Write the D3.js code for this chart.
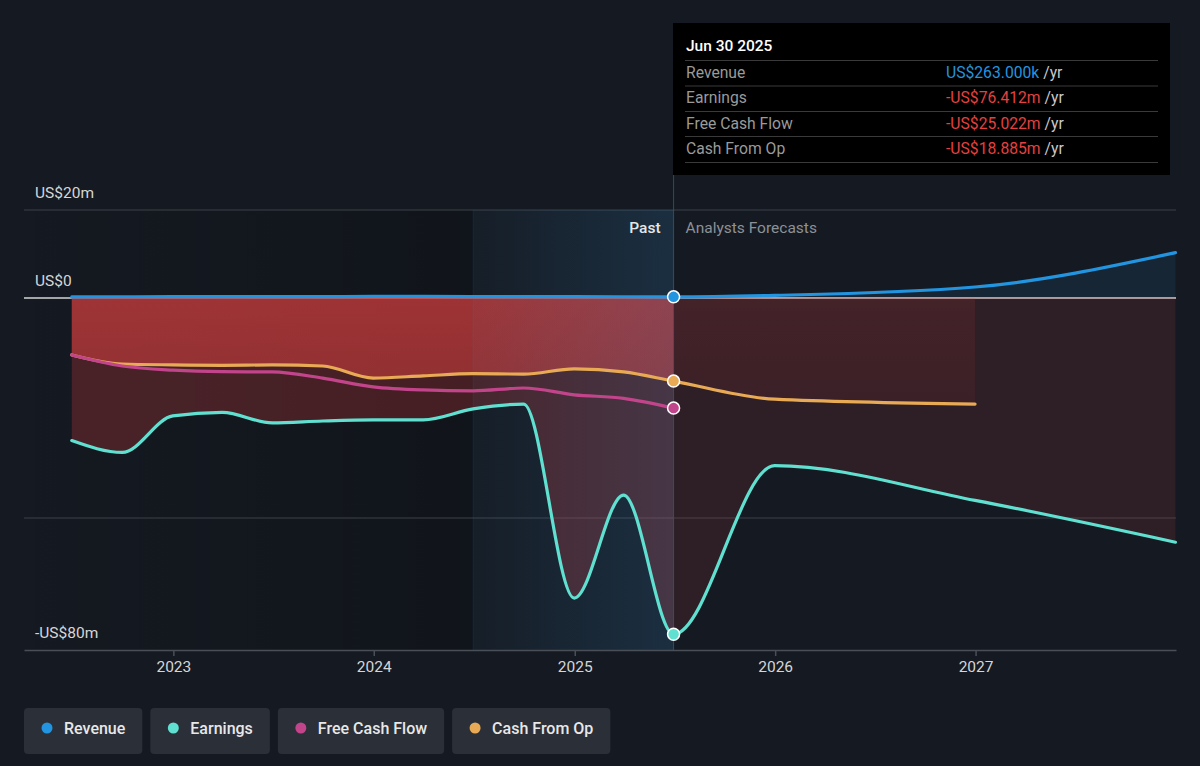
<!DOCTYPE html>
<html><head><meta charset="utf-8">
<script src="https://cdn.jsdelivr.net/npm/d3@7"></script>
<style>html,body{margin:0;padding:0;background:#151a22;} svg{display:block;font-family:Roboto,"Open Sans",sans-serif;}</style>
</head><body><svg id="chart" width="1200" height="766"></svg>
<script>
// ---------- DATA ----------
const pastDates = ["2022-06-30","2022-09-30","2022-12-31","2023-03-31","2023-06-30","2023-09-30","2023-12-31","2024-03-31","2024-06-30","2024-09-30","2024-12-31","2025-03-31","2025-06-30"];
const revenuePast  = [0.25,0.28,0.3,0.3,0.3,0.32,0.35,0.35,0.33,0.3,0.3,0.28,0.263];
const earningsPast = [-32.4,-35.1,-26.8,-26.0,-28.4,-27.95,-27.7,-27.7,-25.2,-24.1,-68.2,-44.8,-76.412];
const fcfPast      = [-12.95,-15.45,-16.4,-16.75,-16.8,-18.2,-20.2,-20.9,-21.1,-20.45,-22.0,-22.8,-25.022];
const cfoPast      = [-12.95,-15.0,-15.2,-15.3,-15.2,-15.45,-18.2,-17.7,-17.2,-17.3,-16.1,-16.8,-18.885];

const fcDates     = ["2025-06-30","2025-12-31","2026-12-31","2027-12-31"];
const revenueFc   = [0.263,0.6,2.5,10.3];
const earningsFc  = [-76.412,-38.1,-46.0,-55.5];
const cfoFcDates  = ["2025-06-30","2025-12-31","2026-12-31"];
const cfoFc       = [-18.885,-23.0,-24.1];

const yTickValues = [20,0,-80];
const yTickLabels = ["US$20m","US$0","-US$80m"];
const yGridValues = [20,-50];
const xTickYears  = [2023,2024,2025,2026,2027];

const tooltipTitle  = "Jun 30 2025";
const tooltipLabels = ["Revenue","Earnings","Free Cash Flow","Cash From Op"];
const tooltipValues = ["US$263.000k","-US$76.412m","-US$25.022m","-US$18.885m"];

const legendNames  = ["Revenue","Earnings","Free Cash Flow","Cash From Op"];
const legendColors = ["#2394df","#5fe0d0","#c2448a","#e8aa55"];

// ---------- SETUP ----------
const parse = d3.timeParse("%Y-%m-%d");
const svg = d3.select("#chart");
const W = 1200, H = 766;
const x = d3.scaleTime().domain([parse("2022-04-04"), parse("2028-01-01")]).range([24,1176]);
const y = d3.scaleLinear().domain([-80,20]).range([650,210]);
const nowDate = parse("2025-06-30");
const yearAgo = parse("2024-06-30");
const xNow = x(nowDate), xYearAgo = x(yearAgo);

const zip = (ds, vs) => ds.map((d,i)=>({date:parse(d), v:vs[i]}));
const revenue = zip(pastDates, revenuePast).concat(zip(fcDates.slice(1), revenueFc.slice(1)));
const earnings = zip(pastDates, earningsPast).concat(zip(fcDates.slice(1), earningsFc.slice(1)));
const fcf = zip(pastDates, fcfPast);
const cfo = zip(pastDates, cfoPast).concat(zip(cfoFcDates.slice(1), cfoFc.slice(1)));

const defs = svg.append("defs");
svg.append("rect").attr("width",W).attr("height",H).attr("fill","#151a22");

// dark past region gradient
const gDark = defs.append("linearGradient").attr("id","gDark").attr("x1","0").attr("x2","1").attr("y1","0").attr("y2","0");
gDark.append("stop").attr("offset","0").attr("stop-color","#000").attr("stop-opacity",0.02);
gDark.append("stop").attr("offset","1").attr("stop-color","#000").attr("stop-opacity",0.22);
svg.append("rect").attr("x",x.range()[0]).attr("y",y(20)).attr("width",xYearAgo-x.range()[0]).attr("height",y(-80)-y(20)).attr("fill","url(#gDark)");

// grid lines
svg.selectAll(".grid").data(yGridValues).join("line")
  .attr("x1",24).attr("x2",1176).attr("y1",d=>y(d)).attr("y2",d=>y(d))
  .attr("stroke","#3c4148").attr("stroke-width",1.2);

// zero line
svg.append("line").attr("x1",24).attr("x2",1176).attr("y1",y(0)).attr("y2",y(0))
  .attr("stroke","#d4d4d4").attr("stroke-width",1.5);

// clip paths
defs.append("clipPath").attr("id","clipPast").append("rect").attr("x",0).attr("y",0).attr("width",xNow).attr("height",H);
defs.append("clipPath").attr("id","clipFc").append("rect").attr("x",xNow).attr("y",0).attr("width",W-xNow).attr("height",H);

const area = d3.area().x(d=>x(d.date)).y0(y(0)).y1(d=>y(d.v)).curve(d3.curveMonotoneX);
const line = d3.line().x(d=>x(d.date)).y(d=>y(d.v)).curve(d3.curveMonotoneX);

// gradients for red areas
function vGrad(id, stops){
  const g = defs.append("linearGradient").attr("id",id).attr("gradientUnits","userSpaceOnUse")
    .attr("x1",0).attr("x2",0).attr("y1",y(0)).attr("y2",y(-25));
  stops.forEach(s=>g.append("stop").attr("offset",s[0]).attr("stop-color",s[1]).attr("stop-opacity",s[2]));
}
vGrad("gCfoPast",[[0,"#c83c3c",0.68],[1,"#c83c3c",0.55]]);
vGrad("gCfoFc",[[0,"#c83c3c",0.14],[1,"#c83c3c",0.08]]);

// past areas
const pastG = svg.append("g").attr("clip-path","url(#clipPast)");
pastG.append("path").datum(earnings).attr("d",area).attr("fill","#c83c3c").attr("fill-opacity",0.29);
pastG.append("path").datum(cfo).attr("d",area).attr("fill","url(#gCfoPast)");
// forecast areas
const fcG = svg.append("g").attr("clip-path","url(#clipFc)");
fcG.append("path").datum(earnings).attr("d",area).attr("fill","#c83c3c").attr("fill-opacity",0.14);
fcG.append("path").datum(cfo).attr("d",area).attr("fill","url(#gCfoFc)");
fcG.append("path").datum(revenue).attr("d",area).attr("fill","#2394df").attr("fill-opacity",0.1);

// highlight last-year region
const gHi = defs.append("linearGradient").attr("id","gHi").attr("x1","0").attr("x2","1").attr("y1","0").attr("y2","0");
gHi.append("stop").attr("offset","0").attr("stop-color","#3a9be0").attr("stop-opacity",0.03);
gHi.append("stop").attr("offset","1").attr("stop-color","#3a9be0").attr("stop-opacity",0.16);
svg.append("rect").attr("x",xYearAgo).attr("y",y(20)).attr("width",xNow-xYearAgo).attr("height",y(-80)-y(20)).attr("fill","url(#gHi)");
svg.append("line").attr("x1",xYearAgo).attr("x2",xYearAgo).attr("y1",y(20)).attr("y2",y(-80)).attr("stroke","#2394df").attr("stroke-opacity",0.12);

// vertical now line
svg.append("line").attr("x1",xNow).attr("x2",xNow).attr("y1",170).attr("y2",y(-80))
  .attr("stroke","#2a5a85").attr("stroke-opacity",0.8).attr("stroke-width",1);

// x axis
const xAxis = d3.axisBottom(x).tickValues(xTickYears.map(yr=>new Date(yr,0,1))).tickFormat(d3.timeFormat("%Y")).tickSize(6).tickSizeOuter(0).tickPadding(5);
const xg = svg.append("g").attr("transform",`translate(0,${y(-80)})`).call(xAxis);
xg.select(".domain").attr("stroke","#4a4f57").attr("stroke-width",1.5);
xg.selectAll(".tick line").attr("stroke","#4a4f57").attr("stroke-width",1.5);
xg.selectAll(".tick text").attr("fill","#d6d6d6").attr("font-size",15.5).attr("font-family","Roboto, sans-serif");

// y labels
svg.selectAll(".ylab").data(yTickValues).join("text")
  .attr("x",35).attr("y",d=>y(d)-12).attr("fill","#d6d6d6").attr("font-size",15.5)
  .text((d,i)=>yTickLabels[i]);

// lines
const seriesLines = [
  {data:revenue, color:legendColors[0]},
  {data:cfo, color:legendColors[3]},
  {data:fcf, color:legendColors[2]},
  {data:earnings, color:legendColors[1]}
];
svg.selectAll(".sline").data(seriesLines).join("path")
  .attr("d",d=>line(d.data)).attr("fill","none").attr("stroke",d=>d.color).attr("stroke-width",3.2).attr("stroke-linecap","round");

// markers at now
const markers = [
  {v:revenuePast[revenuePast.length-1], c:legendColors[0]},
  {v:cfoPast[cfoPast.length-1], c:legendColors[3]},
  {v:fcfPast[fcfPast.length-1], c:legendColors[2]},
  {v:earningsPast[earningsPast.length-1], c:legendColors[1]}
];
svg.selectAll(".mk").data(markers).join("circle")
  .attr("cx",xNow).attr("cy",d=>y(d.v)).attr("r",6).attr("fill",d=>d.c).attr("stroke","#fff").attr("stroke-width",1.5);

// Past / forecast labels
svg.append("text").attr("x",xNow-13).attr("y",233).attr("text-anchor","end").attr("fill","#e6e6e6").attr("font-size",15.5).attr("font-weight",500).text("Past");
svg.append("text").attr("x",xNow+12).attr("y",233).attr("fill","#8c9198").attr("font-size",15.5).text("Analysts Forecasts");

// tooltip
const tt = svg.append("g");
tt.append("rect").attr("x",673).attr("y",23).attr("width",497).attr("height",152).attr("fill","#000");
tt.append("text").attr("x",686).attr("y",51).attr("fill","#fff").attr("font-size",15.5).attr("font-weight",500).text(tooltipTitle);
const rowY = [72,97,123,148];
const sepY = [60.5,86,111.5,136.5,162.5];
tt.selectAll(".sep").data(sepY).join("line").attr("x1",685).attr("x2",1158).attr("y1",d=>d).attr("y2",d=>d).attr("stroke","#3a3a3a").attr("stroke-width",1.2);
tt.selectAll(".lab").data(tooltipLabels).join("text").attr("x",686).attr("y",(d,i)=>rowY[i]+5.5).attr("fill","#9a9a9a").attr("font-size",15.7).text(d=>d);
const valT = tt.selectAll(".val").data(tooltipValues).join("text").attr("x",946).attr("y",(d,i)=>rowY[i]+5.5).attr("font-size",15.7);
valT.append("tspan").attr("fill",(d,i)=>i===0?"#2394df":"#e5403f").text(d=>d);
valT.append("tspan").attr("fill","#c8c8c8").text(" /yr");

// legend
const lg = svg.append("g");
let lx = 24;
legendNames.forEach((name,i)=>{
  const g = lg.append("g");
  const rect = g.append("rect").attr("x",lx).attr("y",708).attr("height",46).attr("rx",4).attr("fill","#2a2f38");
  g.append("circle").attr("cx",lx+23).attr("cy",728).attr("r",5.5).attr("fill",legendColors[i]);
  const t = g.append("text").attr("x",lx+40).attr("y",734).attr("fill","#e8e8e8").attr("font-size",16).attr("font-weight",500).text(name);
  const w = 40 + t.node().getComputedTextLength() + 17;
  rect.attr("width",w);
  lx += w + 8;
});
</script></body></html>
